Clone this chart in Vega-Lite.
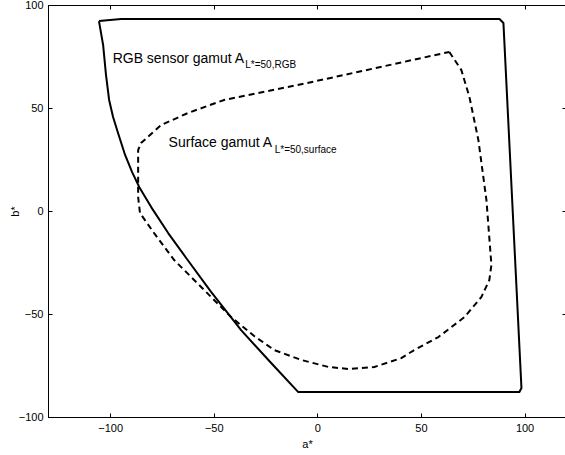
{
  "$schema": "https://vega.github.io/schema/vega-lite/v6.json",
  "width": 518,
  "height": 412,
  "autosize": {"type": "none"},
  "padding": {"left": 48, "top": 5, "right": 0, "bottom": 38},
  "background": "white",
  "config": {
    "view": {"stroke": "#000", "strokeWidth": 1},
    "font": "Liberation Sans",
    "axis": {
      "domainColor": "#000",
      "domainWidth": 1,
      "tickColor": "#000",
      "tickSize": -4,
      "tickWidth": 1,
      "labelFont": "Liberation Sans",
      "labelFontSize": 11,
      "labelColor": "#000",
      "labelPadding": 9,
      "titleFont": "Liberation Sans",
      "titleFontSize": 11,
      "titleFontWeight": "normal",
      "titleColor": "#000",
      "grid": false
    }
  },
  "datasets": {
    "rgb": [
      {"i": 0, "a": -105.4, "b": 92.2},
      {"i": 1, "a": -103.4, "b": 80.6},
      {"i": 2, "a": -102.0, "b": 66.0},
      {"i": 3, "a": -100.5, "b": 53.9},
      {"i": 4, "a": -98.6, "b": 45.6},
      {"i": 5, "a": -96.2, "b": 37.9},
      {"i": 6, "a": -92.8, "b": 27.2},
      {"i": 7, "a": -89.4, "b": 18.9},
      {"i": 8, "a": -86.0, "b": 11.7},
      {"i": 9, "a": -80.2, "b": 1.9},
      {"i": 10, "a": -72.0, "b": -10.7},
      {"i": 11, "a": -63.3, "b": -22.8},
      {"i": 12, "a": -51.3, "b": -39.3},
      {"i": 13, "a": -36.8, "b": -57.8},
      {"i": 14, "a": -22.3, "b": -73.8},
      {"i": 15, "a": -9.2, "b": -87.9},
      {"i": 16, "a": 97.5, "b": -87.9},
      {"i": 17, "a": 98.5, "b": -85.9},
      {"i": 18, "a": 89.8, "b": 91.3},
      {"i": 19, "a": 87.9, "b": 93.2},
      {"i": 20, "a": -94.7, "b": 93.2},
      {"i": 21, "a": -105.4, "b": 92.2}
    ],
    "surface": [
      {"i": 0, "a": 63.7, "b": 77.2},
      {"i": 1, "a": 69.5, "b": 68.4},
      {"i": 2, "a": 73.4, "b": 55.3},
      {"i": 3, "a": 77.7, "b": 34.5},
      {"i": 4, "a": 81.6, "b": 5.3},
      {"i": 5, "a": 84.0, "b": -26.2},
      {"i": 6, "a": 83.0, "b": -33.5},
      {"i": 7, "a": 79.2, "b": -41.7},
      {"i": 8, "a": 71.0, "b": -51.5},
      {"i": 9, "a": 58.4, "b": -61.2},
      {"i": 10, "a": 46.8, "b": -67.5},
      {"i": 11, "a": 40.5, "b": -71.4},
      {"i": 12, "a": 27.5, "b": -75.7},
      {"i": 13, "a": 14.9, "b": -76.7},
      {"i": 14, "a": 5.3, "b": -75.7},
      {"i": 15, "a": -7.8, "b": -72.3},
      {"i": 16, "a": -20.8, "b": -67.5},
      {"i": 17, "a": -30.5, "b": -60.7},
      {"i": 18, "a": -41.6, "b": -51.5},
      {"i": 19, "a": -56.1, "b": -36.9},
      {"i": 20, "a": -69.1, "b": -23.8},
      {"i": 21, "a": -78.8, "b": -10.7},
      {"i": 22, "a": -85.6, "b": -1.0},
      {"i": 23, "a": -86.5, "b": 6.8},
      {"i": 24, "a": -86.5, "b": 29.6},
      {"i": 25, "a": -85.1, "b": 33.0},
      {"i": 26, "a": -75.4, "b": 41.7},
      {"i": 27, "a": -62.4, "b": 47.6},
      {"i": 28, "a": -45.0, "b": 53.9},
      {"i": 29, "a": -7.8, "b": 61.5},
      {"i": 30, "a": 63.7, "b": 77.2}
    ],
    "labels": [
      {"a": -98.8, "b": 71.7, "text": "RGB sensor gamut A", "kind": "main"},
      {"a": -34.8, "b": 69.3, "text": "L*=50,RGB", "kind": "sub"},
      {"a": -71.8, "b": 30.9, "text": "Surface gamut A", "kind": "main"},
      {"a": -20.6, "b": 28.3, "text": "L*=50,surface", "kind": "sub"}
    ]
  },
  "layer": [
    {
      "data": {"name": "rgb"},
      "mark": {"type": "line", "color": "#000", "strokeWidth": 2, "strokeJoin": "round"},
      "encoding": {
        "x": {"field": "a", "type": "quantitative", "scale": {"domain": [-130, 120], "nice": false, "zero": false},
              "axis": {"orient": "bottom", "values": [-100, -50, 0, 50, 100], "title": "a*", "titlePadding": 5}},
        "y": {"field": "b", "type": "quantitative", "scale": {"domain": [-100, 100], "nice": false, "zero": false},
              "axis": {"orient": "left", "values": [-100, -50, 0, 50, 100], "title": "b*", "titleX": -33, "titleY": 206, "titleAngle": -90, "titleAlign": "center", "titleBaseline": "middle"}},
        "order": {"field": "i", "type": "quantitative"}
      }
    },
    {
      "data": {"name": "surface"},
      "mark": {"type": "line", "color": "#000", "strokeWidth": 2, "strokeDash": [6, 4], "strokeJoin": "round"},
      "encoding": {
        "x": {"field": "a", "type": "quantitative", "axis": null},
        "y": {"field": "b", "type": "quantitative", "axis": null},
        "order": {"field": "i", "type": "quantitative"}
      }
    },
    {
      "data": {"name": "labels"},
      "transform": [{"filter": "datum.kind === 'main'"}],
      "mark": {"type": "text", "align": "left", "baseline": "alphabetic", "fontSize": 14, "color": "#000", "font": "Liberation Sans"},
      "encoding": {
        "x": {"field": "a", "type": "quantitative", "axis": null},
        "y": {"field": "b", "type": "quantitative", "axis": null},
        "text": {"field": "text"}
      }
    },
    {
      "data": {"name": "labels"},
      "transform": [{"filter": "datum.kind === 'sub'"}],
      "mark": {"type": "text", "align": "left", "baseline": "alphabetic", "fontSize": 10, "color": "#000", "font": "Liberation Sans"},
      "encoding": {
        "x": {"field": "a", "type": "quantitative", "axis": null},
        "y": {"field": "b", "type": "quantitative", "axis": null},
        "text": {"field": "text"}
      }
    },
    {
      "data": {"name": "rgb"},
      "mark": {"type": "point", "opacity": 0},
      "encoding": {
        "x": {"field": "a", "type": "quantitative", "axis": {"orient": "top", "values": [-100, -50, 0, 50, 100], "labels": false, "title": null}},
        "y": {"field": "b", "type": "quantitative", "axis": {"orient": "right", "values": [-100, -50, 0, 50, 100], "labels": false, "title": null}}
      }
    }
  ],
  "resolve": {"axis": {"x": "independent", "y": "independent"}}
}
